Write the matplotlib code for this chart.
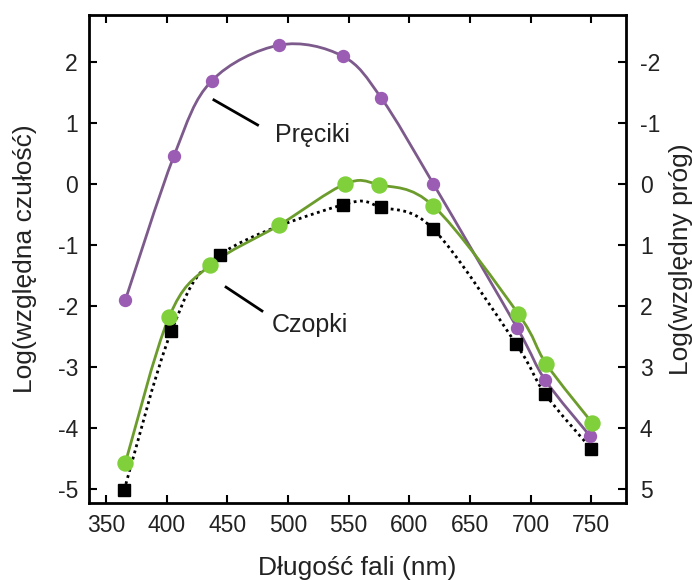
import numpy as np
import matplotlib
matplotlib.use("Agg")
import matplotlib.pyplot as plt
from matplotlib.path import Path
from matplotlib.patches import PathPatch

plt.rcParams['font.family'] = ['Liberation Sans', 'DejaVu Sans']
plt.rcParams['axes.unicode_minus'] = False

# rods (preciki)
rod_nm = [366, 406, 437, 493, 545, 577, 620, 689, 712, 749]
rod_val = [-1.90, 0.46, 1.69, 2.28, 2.10, 1.41, 0.0, -2.36, -3.21, -4.13]

# cones (czopki)
cone_nm = [366, 402, 436, 493, 547, 575, 620, 690, 713, 751]
cone_val = [-4.57, -2.18, -1.33, -0.67, 0.0, -0.01, -0.36, -2.13, -2.95, -3.92]

# thresholds (black squares)
thr_nm = [365, 404, 444, 545, 577, 620, 688, 712, 750]
thr_val = [-5.02, -2.41, -1.16, -0.34, -0.38, -0.74, -2.62, -3.44, -4.34]

x_ticks = [350, 400, 450, 500, 550, 600, 650, 700, 750]
left_ticks = [-5, -4, -3, -2, -1, 0, 1, 2]
right_ticks = [-2, -1, 0, 1, 2, 3, 4, 5]


def smooth_path(xs, ys):
    # catmull-rom through the points, drawn as cubic bezier segments
    pts = np.column_stack([xs, ys]).astype(float)
    verts = [pts[0]]
    codes = [Path.MOVETO]
    n = len(pts)
    for i in range(n - 1):
        p0 = pts[max(i - 1, 0)]
        p1 = pts[i]
        p2 = pts[i + 1]
        p3 = pts[min(i + 2, n - 1)]
        c1 = p1 + (p2 - p0) / 6.0
        c2 = p2 - (p3 - p1) / 6.0
        verts += [c1, c2, p2]
        codes += [Path.CURVE4] * 3
    return Path(verts, codes)


fig = plt.figure(figsize=(6.92, 5.80), dpi=100)
ax = fig.add_axes([0.1286, 0.1328, 0.776, 0.841])

purple_line = '#7d5a8c'
purple_mk = '#9b5cb4'
green_line = '#6c9c2c'
green_mk = '#7fd03a'

ax.add_patch(PathPatch(smooth_path(thr_nm, thr_val), fill=False, edgecolor='black',
                       lw=2, linestyle=(0, (1, 1.3)), zorder=2))
ax.add_patch(PathPatch(smooth_path(rod_nm, rod_val), fill=False, edgecolor=purple_line,
                       lw=2, zorder=3))
ax.add_patch(PathPatch(smooth_path(cone_nm, cone_val), fill=False, edgecolor=green_line,
                       lw=2, zorder=3))

ax.plot(thr_nm, thr_val, 's', color='black', ms=9, zorder=4)
ax.plot(rod_nm, rod_val, 'o', color=purple_mk, ms=8.6, mec=purple_mk, zorder=5)
ax.plot(cone_nm, cone_val, 'o', color=green_mk, ms=10.8, mec=green_mk, zorder=5)

# labels with pointer lines
ax.plot([439, 475], [1.38, 0.97], color='black', lw=2)
ax.text(489, 0.80, 'Pręciki', fontsize=18, va='center', ha='left', color='#222222')
ax.plot([449, 478.6], [-1.69, -2.08], color='black', lw=2)
ax.text(487, -2.31, 'Czopki', fontsize=18, va='center', ha='left', color='#222222')

ax.set_xlim(336, 778.7)
ax.set_ylim(-5.23, 2.77)
ax.set_xticks(x_ticks)
ax.set_yticks(left_ticks)
ax.tick_params(direction='in', labelsize=16.5, length=6, width=1.5, top=True,
               pad=8, colors='black', labelcolor='#222222')
for s in ax.spines.values():
    s.set_linewidth(2)

sec = ax.secondary_yaxis('right', functions=(lambda y: -y, lambda y: -y))
sec.set_yticks(right_ticks)
sec.tick_params(direction='in', labelsize=16.5, length=6, width=1.5, pad=10,
                labelcolor='#222222')
sec.set_ylabel('Log(względny próg)', fontsize=19, color='#222222')
sec.yaxis.set_label_coords(1.08, 0.5, transform=ax.transAxes)

ax.set_xlabel('Długość fali (nm)', fontsize=19, color='#222222')
ax.xaxis.set_label_coords(0.5, -0.108)
ax.set_ylabel('Log(względna czułość)', fontsize=19, color='#222222')
ax.yaxis.set_label_coords(-0.097, 0.5)

fig.savefig('out.png', dpi=100)
